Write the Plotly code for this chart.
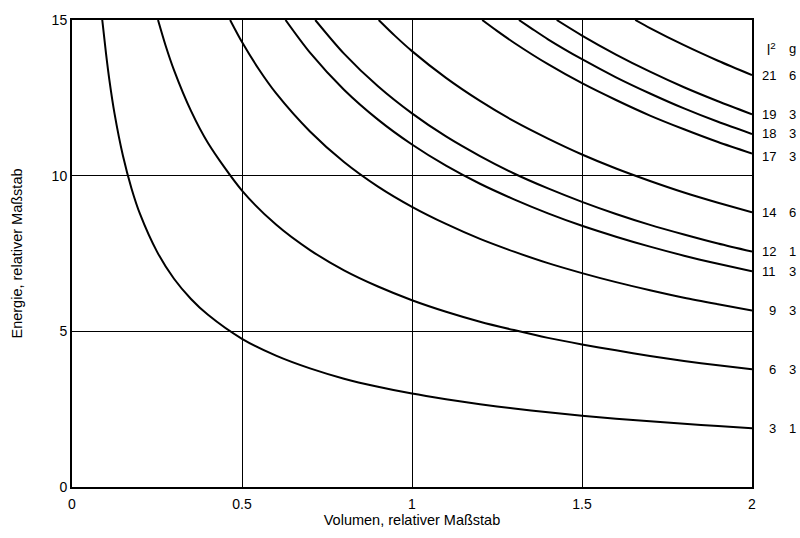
import plotly.graph_objects as go

# Energy levels (relative) vs. volume (relative) for each l^2 value
l2_values = [3, 6, 9, 11, 12, 14, 17, 18, 19, 21]
g_values = [1, 3, 3, 3, 1, 6, 3, 3, 3, 6]
label_y = [1.89, 3.78, 5.67, 6.93, 7.56, 8.82, 10.61, 11.34, 11.97, 13.23]

x_l3 = [0.089, 0.1, 0.11, 0.125, 0.15, 0.175, 0.2, 0.25, 0.3, 0.35, 0.4, 0.5, 0.6, 0.7, 0.8, 0.9, 1.0,
        1.1, 1.2, 1.3, 1.4, 1.5, 1.6, 1.7, 1.8, 1.9, 2.0]
y_l3 = [15.0, 13.93, 13.07, 12.0, 10.63, 9.59, 8.77, 7.56, 6.69, 6.04, 5.53, 4.76, 4.22, 3.81, 3.48, 3.22, 3.0,
        2.82, 2.66, 2.52, 2.40, 2.29, 2.19, 2.11, 2.03, 1.96, 1.89]

x_l6 = [0.253, 0.275, 0.3, 0.35, 0.4, 0.5, 0.6, 0.7, 0.8, 0.9, 1.0, 1.1, 1.2, 1.3, 1.4, 1.5, 1.6, 1.7, 1.8, 1.9, 2.0]
y_l6 = [15.0, 14.19, 13.39, 12.08, 11.05, 9.52, 8.43, 7.61, 6.96, 6.44, 6.0, 5.63, 5.31, 5.04, 4.79, 4.58, 4.39,
        4.21, 4.05, 3.91, 3.78]

x_l9 = [0.465, 0.5, 0.55, 0.6, 0.7, 0.8, 0.9, 1.0, 1.1, 1.2, 1.3, 1.4, 1.5, 1.6, 1.7, 1.8, 1.9, 2.0]
y_l9 = [15.0, 14.29, 13.41, 12.65, 11.42, 10.44, 9.65, 9.0, 8.45, 7.97, 7.56, 7.19, 6.87, 6.58, 6.32, 6.08, 5.87, 5.67]

x_l11 = [0.628, 0.7, 0.8, 0.9, 1.0, 1.1, 1.2, 1.3, 1.4, 1.5, 1.6, 1.7, 1.8, 1.9, 2.0]
y_l11 = [15.0, 13.95, 12.76, 11.80, 11.0, 10.32, 9.74, 9.24, 8.79, 8.39, 8.04, 7.72, 7.43, 7.17, 6.93]

x_l12 = [0.7155, 0.8, 0.9, 1.0, 1.1, 1.2, 1.3, 1.4, 1.5, 1.6, 1.7, 1.8, 1.9, 2.0]
y_l12 = [15.0, 13.92, 12.87, 12.0, 11.26, 10.63, 10.07, 9.59, 9.16, 8.77, 8.42, 8.11, 7.82, 7.56]

x_l14 = [0.902, 0.95, 1.0, 1.1, 1.2, 1.3, 1.4, 1.5, 1.6, 1.7, 1.8, 1.9, 2.0]
y_l14 = [15.0, 14.49, 14.0, 13.14, 12.40, 11.75, 11.19, 10.68, 10.23, 9.83, 9.46, 9.13, 8.82]

x_l17 = [1.2065, 1.25, 1.3, 1.4, 1.5, 1.6, 1.7, 1.8, 1.9, 2.0]
y_l17 = [15.0, 14.65, 14.27, 13.58, 12.97, 12.43, 11.93, 11.49, 11.08, 10.71]

x_l18 = [1.3145, 1.35, 1.4, 1.5, 1.6, 1.7, 1.8, 1.9, 2.0]
y_l18 = [15.0, 14.74, 14.38, 13.74, 13.16, 12.64, 12.16, 11.73, 11.34]

x_l19 = [1.4256, 1.5, 1.6, 1.7, 1.8, 1.9, 2.0]
y_l19 = [15.0, 14.50, 13.89, 13.34, 12.84, 12.39, 11.97]

x_l21 = [1.6565, 1.7, 1.8, 1.9, 2.0]
y_l21 = [15.0, 14.74, 14.19, 13.69, 13.23]

curves = [(x_l3, y_l3), (x_l6, y_l6), (x_l9, y_l9), (x_l11, y_l11), (x_l12, y_l12),
          (x_l14, y_l14), (x_l17, y_l17), (x_l18, y_l18), (x_l19, y_l19), (x_l21, y_l21)]

x_ticks = [0, 0.5, 1, 1.5, 2]
x_tick_labels = ["0", "0.5", "1", "1.5", "2"]
y_ticks = [0, 5, 10, 15]
y_tick_labels = ["0", "5", "10", "15"]

FONT = "Arial, Liberation Sans, sans-serif"

fig = go.Figure()
for (xs, ys), l2 in zip(curves, l2_values):
    fig.add_trace(go.Scatter(x=xs, y=ys, mode="lines", name=str(l2),
                             line=dict(color="black", width=2, shape="spline", smoothing=0.8),
                             hoverinfo="x+y", showlegend=False))

annotations = []
x_num = (778 - 72) / 680
x_g = (792 - 72) / 680
annotations.append(dict(x=x_num, y=14.08, xref="paper", yref="y", text="l<sup>2</sup>",
                        xanchor="right", yanchor="middle", showarrow=False,
                        font=dict(family=FONT, size=14, color="black")))
annotations.append(dict(x=x_g, y=14.08, xref="paper", yref="y", text="g",
                        xanchor="center", yanchor="middle", showarrow=False,
                        font=dict(family=FONT, size=13, color="black")))
for l2, g, ly in zip(l2_values, g_values, label_y):
    annotations.append(dict(x=x_num, y=ly, xref="paper", yref="y", text=str(l2),
                            xanchor="right", yanchor="middle", showarrow=False,
                            font=dict(family=FONT, size=13, color="black")))
    annotations.append(dict(x=x_g, y=ly, xref="paper", yref="y", text=str(g),
                            xanchor="center", yanchor="middle", showarrow=False,
                            font=dict(family=FONT, size=13, color="black")))

fig.update_layout(
    width=800, height=538,
    margin=dict(l=72, r=48, t=14, b=49),
    plot_bgcolor="white", paper_bgcolor="white",
    font=dict(family=FONT, size=14, color="black"),
    annotations=annotations,
    xaxis=dict(range=[0, 2], tickvals=x_ticks, ticktext=x_tick_labels,
               showgrid=True, gridcolor="black", gridwidth=1,
               showline=True, linecolor="black", linewidth=2, mirror="ticks",
               ticks="inside", ticklen=5, tickcolor="black", zeroline=False,
               ticklabelstandoff=3, ticklabeloverflow="allow",
               title=dict(text="Volumen, relativer Maßstab", font=dict(size=14.5), standoff=4),
               tickfont=dict(size=14)),
    yaxis=dict(range=[0, 15], tickvals=y_ticks, ticktext=y_tick_labels,
               showgrid=True, gridcolor="black", gridwidth=1,
               showline=True, linecolor="black", linewidth=2, mirror="ticks",
               ticks="inside", ticklen=5, tickcolor="black", zeroline=False,
               ticklabeloverflow="allow",
               title=dict(text="Energie, relativer Maßstab", font=dict(size=14.5), standoff=26),
               tickfont=dict(size=14)),
)

fig.write_html("out.html",
               config={"displayModeBar": False},
               post_script="document.body.style.margin='0';document.body.style.overflow='hidden';")
